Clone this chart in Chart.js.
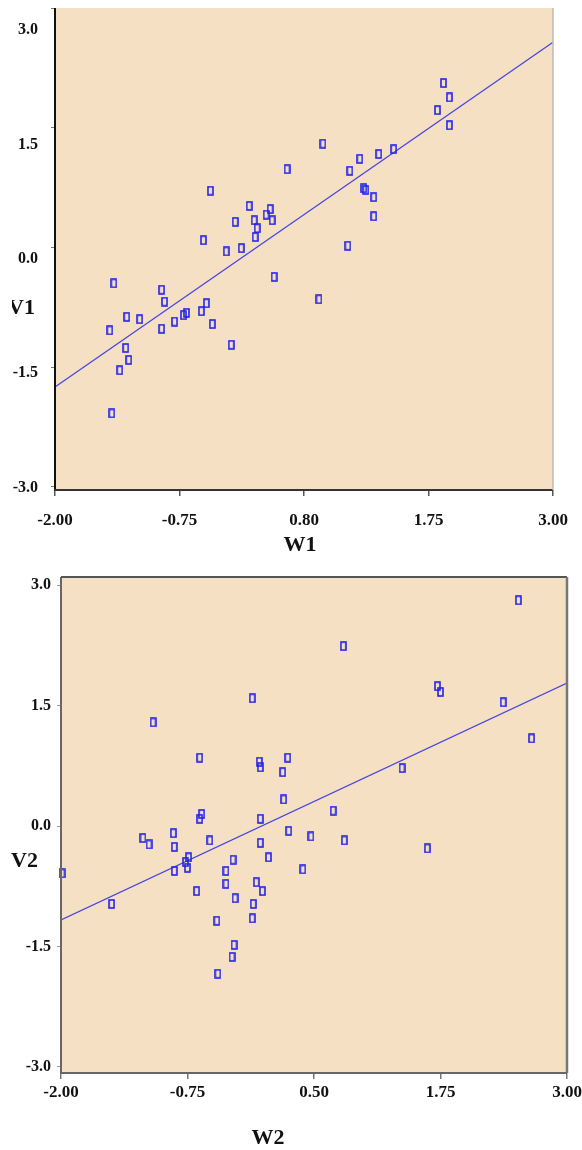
<!DOCTYPE html>
<html>
<head>
<meta charset="utf-8">
<script src="https://cdn.jsdelivr.net/npm/chart.js@4.4.1/dist/chart.umd.min.js"></script>
<style>
html, body { margin: 0; padding: 0; background: #fff; }
#wrap { position: relative; width: 582px; height: 1150px; }
.box { position: absolute; left: 0; width: 582px; }
</style>
</head>
<body>
<div id="wrap">
	<div class="box" style="top:0;height:560px"><canvas id="chart1"></canvas></div>
	<div class="box" style="top:560px;height:590px"><canvas id="chart2"></canvas></div>
</div>
<script>
// W1 / V1 points
const w1 = [1.90, 1.96, 1.84, 1.96, 0.69, 1.40, 1.25, 1.06, 0.33, 0.96, 1.10, 1.12, 1.20, 1.20, 0.94, 0.65,
	-0.44, -0.05, 0.16, 0.12, 0.18, -0.19, 0.00, 0.03, 0.01, -0.51, -0.28, -0.13, 0.20, -1.41, -0.93, -0.90,
	-0.48, -0.53, -0.68, -0.71, -1.28, -1.15, -0.80, -0.42, -1.45, -0.93, -0.23, -1.29, -1.26, -1.35, -1.43];
const v1 = [2.06, 1.88, 1.72, 1.53, 1.30, 1.23, 1.17, 1.11, 0.98, 0.96, 0.74, 0.72, 0.63, 0.39, 0.02, -0.65,
	0.71, 0.52, 0.48, 0.41, 0.34, 0.32, 0.34, 0.24, 0.13, 0.09, -0.05, -0.01, -0.37, -0.45, -0.53, -0.68,
	-0.70, -0.80, -0.82, -0.85, -0.87, -0.90, -0.93, -0.96, -1.04, -1.02, -1.22, -1.26, -1.41, -1.54, -2.08];
const fit1X = [-2, 3];
const fit1Y = [-1.75, 2.57];

// W2 / V2 points
const w2 = [2.52, 0.79, 1.72, 1.75, 2.37, 2.65, 1.37, 1.62, -0.11, -1.09, -0.63, -0.04, -0.03, 0.24, 0.19, 0.20,
	-0.61, -0.63, -0.03, 0.69, 0.25, 0.47, 0.80, 0.39, -0.89, -1.19, -1.13, -0.88, -0.53, -0.03, 0.05, -0.30,
	-0.74, -0.77, -0.75, -0.88, -1.99, -0.37, -0.37, -0.07, -0.01, -0.66, -0.28, -0.10, -1.50, -0.11, -0.46,
	-0.29, -0.31, -0.45];
const v2 = [2.81, 2.24, 1.74, 1.67, 1.54, 1.09, 0.72, -0.28, 1.59, 1.29, 0.85, 0.80, 0.73, 0.85, 0.67, 0.33,
	0.15, 0.09, 0.09, 0.19, -0.06, -0.13, -0.18, -0.54, -0.09, -0.15, -0.23, -0.26, -0.18, -0.21, -0.39, -0.42,
	-0.39, -0.45, -0.52, -0.56, -0.59, -0.56, -0.72, -0.70, -0.81, -0.81, -0.90, -0.97, -0.97, -1.15, -1.18,
	-1.48, -1.63, -1.84];
const fit2X = [-2, 3];
const fit2Y = [-1.17, 1.78];

// ticks
const xTicks = [-2, -0.75, 0.5, 1.75, 3];
const xLabels1 = ['-2.00', '-0.75', '0.80', '1.75', '3.00'];
const xLabels2 = ['-2.00', '-0.75', '0.50', '1.75', '3.00'];
const yTicks = [-3, -1.5, 0, 1.5, 3];
const yLabels = ['-3.0', '-1.5', '0.0', '1.5', '3.0'];

const serif = '"Liberation Serif", "Times New Roman", serif';

// open rectangle marker
const marker = document.createElement('canvas');
marker.width = 7;
marker.height = 10;
const mctx = marker.getContext('2d');
mctx.strokeStyle = '#2424e8';
mctx.lineWidth = 1.6;
mctx.strokeRect(1, 1, 5, 8);

// plot background, frame lines and the axis names
const frame = {
	id: 'frame',
	beforeDraw(chart, args, opts) {
		const { ctx, chartArea: a } = chart;
		ctx.save();
		ctx.fillStyle = opts.fill;
		ctx.fillRect(a.left, a.top, a.right - a.left, a.bottom - a.top);
		ctx.restore();
	},
	afterDraw(chart, args, opts) {
		const { ctx, chartArea: a } = chart;
		ctx.save();
		opts.sides.forEach(s => {
			ctx.beginPath();
			ctx.strokeStyle = s.color;
			ctx.lineWidth = s.width;
			if (s.edge === 'left') { ctx.moveTo(a.left, a.top); ctx.lineTo(a.left, a.bottom); }
			if (s.edge === 'right') { ctx.moveTo(a.right, a.top); ctx.lineTo(a.right, a.bottom); }
			if (s.edge === 'top') { ctx.moveTo(a.left, a.top); ctx.lineTo(a.right, a.top); }
			if (s.edge === 'bottom') { ctx.moveTo(a.left - 1, a.bottom); ctx.lineTo(a.right, a.bottom); }
			ctx.stroke();
		});
		ctx.font = 'bold 22px ' + serif;
		ctx.fillStyle = '#111';
		ctx.textBaseline = 'middle';
		opts.titles.forEach(t => {
			ctx.save();
			if (t.clip) {
				ctx.beginPath();
				ctx.rect(t.clip, 0, chart.width, chart.height);
				ctx.clip();
			}
			ctx.textAlign = t.align;
			ctx.fillText(t.text, t.x, t.y);
			ctx.restore();
		});
		ctx.restore();
	}
};

function setTicks(values) {
	return function(scale) {
		scale.ticks = values.map(v => ({ value: v }));
	};
}

// fixed axis size, no extra label padding so the plot box sits where the layout padding says
function fixWidth(w) {
	return function(s) { s.width = w; s.paddingTop = 0; s.paddingBottom = 0; };
}
function fixHeight(h) {
	return function(s) { s.height = h; s.paddingLeft = 0; s.paddingRight = 0; };
}

function makeDatasets(xs, ys, fx, fy) {
	return [
		{
			type: 'scatter',
			data: xs.map((x, i) => ({ x: x, y: ys[i] })),
			pointStyle: marker,
			pointRadius: 5,
			clip: false,
			order: 1
		},
		{
			type: 'line',
			data: fx.map((x, i) => ({ x: x, y: fy[i] })),
			borderColor: 'rgb(70, 70, 225)',
			borderWidth: 1.3,
			pointRadius: 0,
			fill: false,
			order: 2
		}
	];
}

const tickFont = { family: serif, weight: 'bold', size: 17 };

// chart 1
new Chart(document.getElementById('chart1'), {
	data: { datasets: makeDatasets(w1, v1, fit1X, fit1Y) },
	options: {
		responsive: true,
		maintainAspectRatio: false,
		animation: false,
		layout: { padding: { top: 8, right: 29, left: 0, bottom: 0 } },
		plugins: {
			legend: { display: false },
			tooltip: { enabled: false },
			frame: {
				fill: 'rgb(246, 224, 195)',
				sides: [
					{ edge: 'left', color: '#111', width: 2 },
					{ edge: 'bottom', color: '#333', width: 2 },
					{ edge: 'right', color: '#bbb', width: 1.5 }
				],
				titles: [
					{ text: 'V1', x: 35, y: 308, align: 'right', clip: 12 },
					{ text: 'W1', x: 300, y: 545, align: 'center' }
				]
			}
		},
		scales: {
			x: {
				type: 'linear', min: -2, max: 3,
				afterBuildTicks: setTicks(xTicks),
				afterFit: fixHeight(70),
				ticks: { callback: (v, i) => xLabels1[i], font: tickFont, color: '#111', padding: 14, maxRotation: 0, autoSkip: false },
				grid: { drawOnChartArea: false, tickLength: 6, color: '#555', lineWidth: 1.5 },
				border: { display: false }
			},
			y: {
				type: 'linear', position: 'left', weight: 0, min: -3.04, max: 3.0,
				afterBuildTicks: setTicks(yTicks),
				afterFit: fixWidth(6),
				ticks: { display: false },
				grid: { drawOnChartArea: false, tickLength: 4, color: '#777' },
				border: { display: false }
			},
			yl: {
				type: 'linear', position: 'left', weight: 1, min: -3.03, max: 3.29,
				afterBuildTicks: setTicks(yTicks),
				afterFit: fixWidth(49),
				ticks: { callback: (v, i) => yLabels[i], font: { family: serif, weight: 'bold', size: 16 }, color: '#111', padding: 11 },
				grid: { display: false, drawTicks: false },
				border: { display: false }
			}
		}
	},
	plugins: [frame]
});

// chart 2
new Chart(document.getElementById('chart2'), {
	data: { datasets: makeDatasets(w2, v2, fit2X, fit2Y) },
	options: {
		responsive: true,
		maintainAspectRatio: false,
		animation: false,
		layout: { padding: { top: 17, right: 15, left: 0, bottom: 0 } },
		plugins: {
			legend: { display: false },
			tooltip: { enabled: false },
			frame: {
				fill: 'rgb(246, 224, 195)',
				sides: [
					{ edge: 'left', color: '#666', width: 2 },
					{ edge: 'top', color: '#555', width: 2 },
					{ edge: 'right', color: '#777', width: 2.5 },
					{ edge: 'bottom', color: '#666', width: 2 }
				],
				titles: [
					{ text: 'V2', x: 38, y: 301, align: 'right' },
					{ text: 'W2', x: 268, y: 578, align: 'center' }
				]
			}
		},
		scales: {
			x: {
				type: 'linear', min: -2, max: 3,
				afterBuildTicks: setTicks(xTicks),
				afterFit: fixHeight(77),
				ticks: { callback: (v, i) => xLabels2[i], font: tickFont, color: '#111', padding: 3, maxRotation: 0, autoSkip: false },
				grid: { drawOnChartArea: false, tickLength: 6, color: '#777', lineWidth: 1.5 },
				border: { display: false }
			},
			y: {
				type: 'linear', position: 'left', min: -3.075, max: 3.10,
				afterBuildTicks: setTicks(yTicks),
				afterFit: fixWidth(61),
				ticks: { callback: (v, i) => yLabels[i], font: { family: serif, weight: 'bold', size: 16 }, color: '#111', padding: 6 },
				grid: { drawOnChartArea: false, tickLength: 4, color: '#999' },
				border: { display: false }
			}
		}
	},
	plugins: [frame]
});
</script>
</body>
</html>
